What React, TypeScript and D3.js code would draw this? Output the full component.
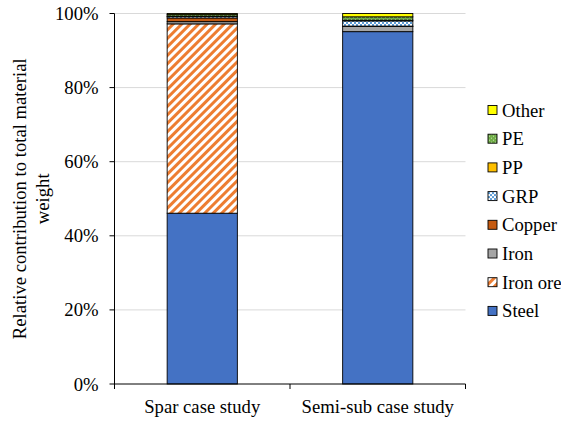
import * as d3 from 'd3'

const categories = ['Spar case study', 'Semi-sub case study']
const materials = ['Steel', 'Iron ore', 'Iron', 'Copper', 'GRP', 'PP', 'PE', 'Other']

// percentage of total material weight, per case study
const steel = [46.1, 95.1]
const ironOre = [51.1, 0]
const iron = [0.6, 1.4]
const copper = [1.0, 0.1]
const grp = [0.4, 1.4]
const pp = [0.1, 0.2]
const pe = [0.4, 0.9]
const other = [0.3, 0.9]

const yTicks = [0, 20, 40, 60, 80, 100]

const seriesValues = [steel, ironOre, iron, copper, grp, pp, pe, other]

const fills: Record<string, string> = {
  Steel: '#4472C4',
  'Iron ore': 'url(#pat-ironore)',
  Iron: '#A5A5A5',
  Copper: '#C55A11',
  GRP: 'url(#pat-grp)',
  PP: '#FFC000',
  PE: 'url(#pat-pe)',
  Other: '#FFFF00',
}

const textStyle = { fontFamily: "'Liberation Serif'", fontSize: 18.67 }

const width = 561
const height = 421
const margin = { top: 13.5, right: 95.5, bottom: 37, left: 114.5 }

const App = () => {
  const x = d3
    .scaleBand()
    .domain(categories)
    .range([margin.left, width - margin.right])
    .paddingInner(0.6)
    .paddingOuter(0.3)

  const y = d3
    .scaleLinear()
    .domain([0, 100])
    .range([height - margin.bottom, margin.top])

  const x0 = margin.left
  const x1 = width - margin.right
  const baseY = y(0)

  const rows = categories.map((c, i) => {
    const row: Record<string, number | string> = { category: c }
    materials.forEach((m, j) => (row[m] = seriesValues[j][i]))
    return row
  })
  const stack = d3.stack<Record<string, number | string>>().keys(materials)(rows)

  // x ticks sit on category boundaries
  const bounds = [x0, ...categories.map((c) => x(c)! + x.bandwidth() / 2 + x.step() / 2)]
  const midY = (y(0) + y(100)) / 2
  const titleLines = ['Relative contribution to total material', 'weight']
  const legendItems = [...materials].reverse()

  return (
    <div style={{ position: 'absolute', left: 0, top: 0 }}>
      <svg width={width} height={height} viewBox={`0 0 ${width} ${height}`} style={{ display: 'block' }}>
        <defs>
          <pattern id="pat-ironore" patternUnits="userSpaceOnUse" width={6} height={6} patternTransform="rotate(45)">
            <rect width={6} height={6} fill="#fff" />
            <rect width={3} height={6} fill="#ED7D31" />
          </pattern>
          <pattern id="pat-grp" patternUnits="userSpaceOnUse" width={4} height={4}>
            <rect width={4} height={4} fill="#fff" />
            <rect width={2} height={2} fill="#5B9BD5" />
            <rect x={2} y={2} width={2} height={2} fill="#5B9BD5" />
          </pattern>
          <pattern id="pat-pe" patternUnits="userSpaceOnUse" width={4} height={4}>
            <rect width={4} height={4} fill="#70AD47" />
            <rect x={1} y={1} width={1} height={1} fill="#C5E0B4" />
            <rect x={3} y={3} width={1} height={1} fill="#C5E0B4" />
          </pattern>
        </defs>

        {/* gridlines */}
        {yTicks
          .filter((t) => t > 0)
          .map((t) => (
            <line key={t} x1={x0} x2={x1} y1={y(t)} y2={y(t)} stroke="#D9D9D9" />
          ))}

        {/* stacked bars */}
        {stack.map((s) => (
          <g key={s.key} fill={fills[s.key]}>
            {s
              .filter((d) => d[1] - d[0] > 0)
              .map((d) => (
                <rect
                  key={d.data.category as string}
                  x={x(d.data.category as string)}
                  width={x.bandwidth()}
                  y={y(d[1])}
                  height={y(d[0]) - y(d[1])}
                  stroke="#000"
                  strokeWidth={0.9}
                />
              ))}
          </g>
        ))}

        {/* y axis */}
        <line x1={x0} x2={x0} y1={y(100)} y2={baseY} stroke="#000" />
        {yTicks.map((t) => (
          <g key={t}>
            <line x1={x0 - 5} x2={x0} y1={y(t)} y2={y(t)} stroke="#000" />
            <text x={x0 - 16} y={y(t)} dy="0.35em" textAnchor="end" style={textStyle}>
              {`${t}%`}
            </text>
          </g>
        ))}

        {/* x axis */}
        <line x1={x0} x2={x1} y1={baseY} y2={baseY} stroke="#000" />
        {bounds.map((b) => (
          <line key={b} x1={b} x2={b} y1={baseY} y2={baseY + 5} stroke="#000" />
        ))}
        {categories.map((c) => (
          <text key={c} x={x(c)! + x.bandwidth() / 2} y={413} textAnchor="middle" style={textStyle}>
            {c}
          </text>
        ))}

        {/* y axis title */}
        {titleLines.map((line, i) => (
          <text
            key={line}
            transform={`translate(${26 + i * 23},${midY}) rotate(-90)`}
            textAnchor="middle"
            style={textStyle}
          >
            {line}
          </text>
        ))}

        {/* legend, reversed order */}
        {legendItems.map((m, i) => (
          <g key={m} transform={`translate(488,${110 + i * 28.7})`}>
            <rect y={-4.5} width={9} height={9} fill={fills[m]} stroke="#000" strokeWidth={0.9} />
            <text x={14} dy="0.35em" style={textStyle}>
              {m}
            </text>
          </g>
        ))}
      </svg>
    </div>
  )
}

export default App
